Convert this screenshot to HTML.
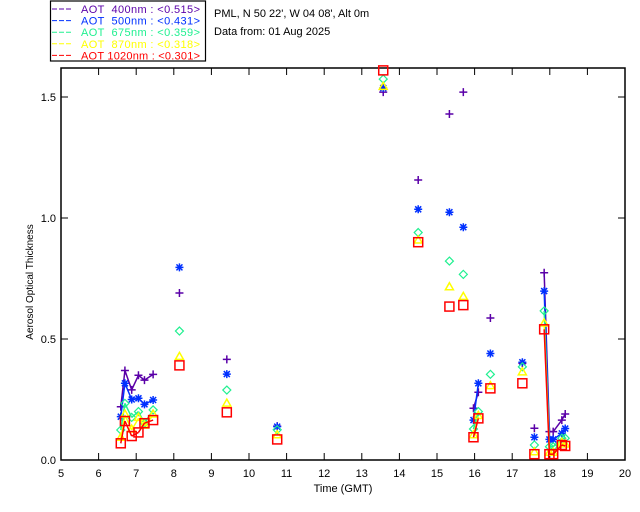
<!DOCTYPE html>
<html><head><meta charset="utf-8"><style>
body{margin:0;background:#fff;}
svg{display:block;font-family:"Liberation Sans",sans-serif;}
</style></head><body>
<svg id="chart" width="640" height="512" xmlns="http://www.w3.org/2000/svg">
<rect x="61" y="68" width="564" height="392" fill="none" stroke="#000" stroke-width="1.5"/>
<g id="axes"></g>
<g id="marks"></g>
<text x="343" y="492" font-size="11" text-anchor="middle">Time (GMT)</text>
<text transform="translate(33,282) rotate(-90)" font-size="10" text-anchor="middle">Aerosol Optical Thickness</text>
<g>
<rect x="50.5" y="1" width="155" height="60" fill="#fff" stroke="#000" stroke-width="1.2"/>
<g id="legend-entries"></g>
</g>
<text x="214" y="17" font-size="11">PML, N 50 22', W 04 08', Alt 0m</text>
<text x="214" y="35" font-size="11">Data from: 01 Aug 2025</text>
</svg>
<script>
const times=[6.59,6.70,6.88,7.06,7.22,7.45,8.15,9.41,10.75,13.57,14.5,15.33,15.70,15.97,16.1,16.42,17.27,17.59,17.85,17.99,18.09,18.32,18.41];
const aot400=[0.22,0.37,0.29,0.35,0.33,0.354,0.69,0.416,0.14,1.52,1.157,1.43,1.52,0.214,0.28,0.587,0.40,0.131,0.774,0.117,0.117,0.165,0.19];
const aot500=[0.179,0.317,0.25,0.255,0.23,0.248,0.796,0.355,0.138,1.537,1.036,1.024,0.962,0.165,0.317,0.44,0.404,0.094,0.698,0.085,0.085,0.11,0.13];
const aot675=[0.124,0.234,0.176,0.2,0.152,0.207,0.533,0.289,0.125,1.574,0.94,0.822,0.767,0.128,0.2,0.354,0.385,0.062,0.616,0.055,0.055,0.09,0.09];
const aot870=[0.09,0.186,0.124,0.172,0.14,0.186,0.424,0.231,0.10,1.54,0.905,0.712,0.672,0.10,0.18,0.303,0.36,0.03,0.562,0.028,0.028,0.069,0.062];
const aot1020=[0.069,0.161,0.099,0.114,0.152,0.165,0.391,0.197,0.085,1.61,0.9,0.634,0.64,0.094,0.172,0.296,0.317,0.024,0.54,0.024,0.024,0.062,0.058];
const xTicks=[5,6,7,8,9,10,11,12,13,14,15,16,17,18,19,20];
const yTicks=[0,0.5,1.0,1.5];
const yTickLabels=["0.0","0.5","1.0","1.5"];
const legendLabels=["AOT  400nm : <0.515>","AOT  500nm : <0.431>","AOT  675nm : <0.359>","AOT  870nm : <0.318>","AOT 1020nm : <0.301>"];

const NS="http://www.w3.org/2000/svg";
const X0=61,X1=625,Y0=460,Y1=68,YMAX=(460-68)/242;
function xs(t){return X0+(t-5)/15*(X1-X0);}
function ys(v){return Y0-v/YMAX*(Y0-Y1);}
function mk(tag,attrs,parent){const e=document.createElementNS(NS,tag);for(const k in attrs)e.setAttribute(k,attrs[k]);parent.appendChild(e);return e;}
const axes=document.getElementById('axes');
xTicks.forEach(t=>{
  const x=xs(t);
  const a=mk('line',{x1:x,x2:x,y1:Y0,y2:Y0-7,stroke:'#000','stroke-width':1},axes);
  
  
  const b=mk('line',{x1:x,x2:x,y1:Y1,y2:Y1+7,stroke:'#000','stroke-width':1},axes);
  
  
  const l=mk('text',{x:x,y:477,'font-size':11,'text-anchor':'middle'},axes);
  l.textContent=t;
  
  
});
yTicks.forEach((v,i)=>{
  const y=ys(v);
  const a=mk('line',{x1:X0,x2:X0+7,y1:y,y2:y,stroke:'#000','stroke-width':1},axes);
  
  
  const b=mk('line',{x1:X1,x2:X1-7,y1:y,y2:y,stroke:'#000','stroke-width':1},axes);
  
  
  const l=mk('text',{x:56,y:y+4,'font-size':11,'text-anchor':'end'},axes);
  l.textContent=yTickLabels[i];
  
  
});
const series=[
 {vals:aot400,color:'#5a00a8',m:'plus',name:'aot-400nm'},
 {vals:aot500,color:'#0030ff',m:'star',name:'aot-500nm'},
 {vals:aot675,color:'#20f090',m:'diamond',name:'aot-675nm'},
 {vals:aot870,color:'#ffff00',m:'tri',name:'aot-870nm'},
 {vals:aot1020,color:'#ff0000',m:'square',name:'aot-1020nm'}];
const marks=document.getElementById('marks');
series.forEach(s=>{
  const g=mk('g',{},marks);
  
  
  for(let i=1;i<times.length;i++){
    if(times[i]-times[i-1]<0.25){
      const ln=mk('line',{x1:xs(times[i-1]),y1:ys(s.vals[i-1]),x2:xs(times[i]),y2:ys(s.vals[i]),stroke:s.color,'stroke-width':1.5},g);
      
      
    }
  }
  times.forEach((t,i)=>{
    const x=xs(t),y=ys(s.vals[i]);let e;
    if(s.m==='plus'){e=mk('path',{d:`M${x-4},${y}H${x+4}M${x},${y-4}V${y+4}`,stroke:s.color,'stroke-width':1.5,fill:'none'},g);}
    else if(s.m==='star'){e=mk('path',{d:`M${x-4},${y}H${x+4}M${x},${y-4}V${y+4}M${x-3},${y-3}L${x+3},${y+3}M${x-3},${y+3}L${x+3},${y-3}`,stroke:s.color,'stroke-width':1.5,fill:'none'},g);}
    else if(s.m==='diamond'){e=mk('path',{d:`M${x},${y-4}L${x+4},${y}L${x},${y+4}L${x-4},${y}Z`,stroke:s.color,'stroke-width':1.2,fill:'none'},g);}
    else if(s.m==='tri'){e=mk('path',{d:`M${x},${y-5}L${x+4},${y+2}L${x-4},${y+2}Z`,stroke:s.color,'stroke-width':1.5,fill:'none'},g);}
    else {e=mk('rect',{x:x-4.5,y:y-4.5,width:9,height:9,stroke:s.color,'stroke-width':1.5,fill:'none'},g);}
    
    
  });
});
const lg=document.getElementById('legend-entries');
legendLabels.forEach((lab,i)=>{
  const y=13+i*11.6;
  const ln=mk('line',{x1:52,x2:73,y1:y-4,y2:y-4,stroke:series[i].color,'stroke-width':1,'stroke-dasharray':'5,2'},lg);
  
  
  const tx=mk('text',{x:81,y:y,'font-size':11,fill:series[i].color,textLength:119,lengthAdjust:'spacing',style:'white-space:pre'},lg);
  tx.textContent=lab;
  
  
});
</script>
</body></html>
